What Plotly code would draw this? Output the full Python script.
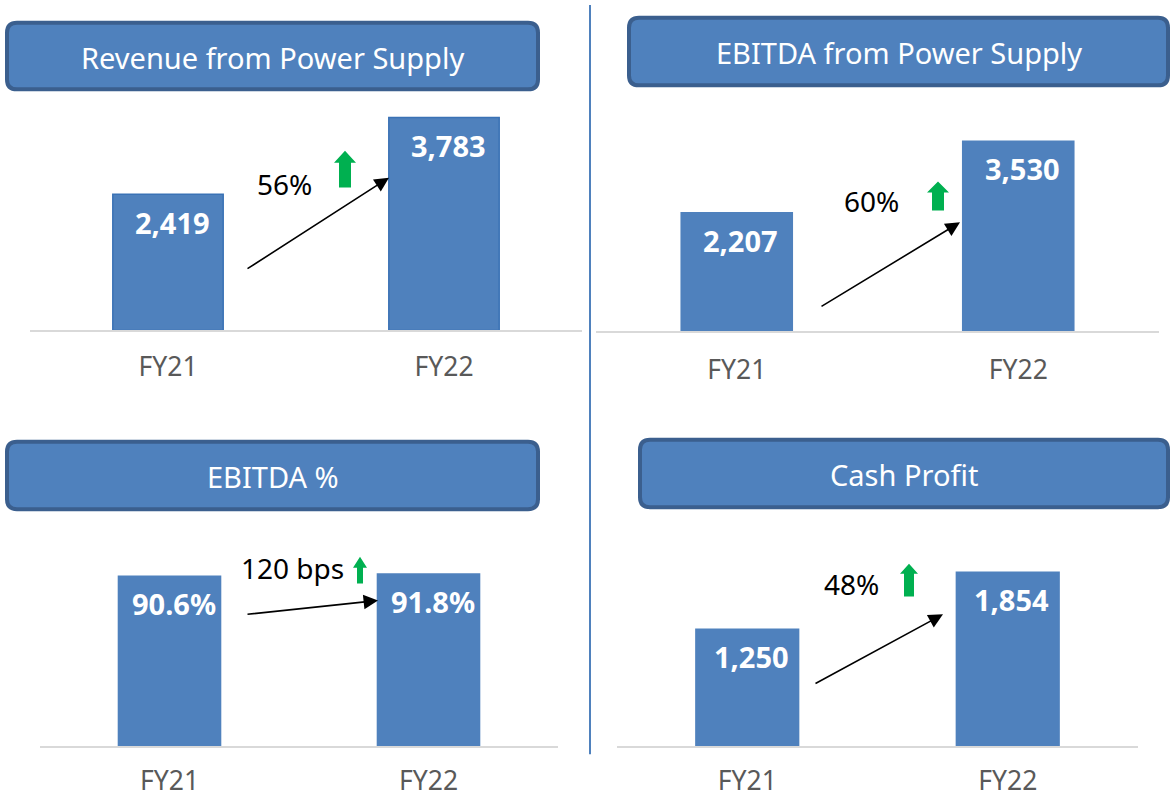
import plotly.graph_objects as go

W, H = 1171, 798

categories = ["FY21", "FY22"]
revenue = [2419, 3783]
ebitda = [2207, 3530]
ebitda_pct = [90.6, 91.8]
cash_profit = [1250, 1854]
titles = ["Revenue from Power Supply", "EBITDA from Power Supply", "EBITDA %", "Cash Profit"]
growth_labels = ["56%", "60%", "120 bps", "48%"]

BLUE = "#4f81bd"
DARK = "#3b5f8e"
GREEN = "#00b050"
FONT = "Noto Sans"


def px(x):
    return x / W


def py(y):
    return 1 - y / H


# layout per panel: x domain px, baseline px, top px, y max
panels = [
    dict(vals=revenue, fmt=lambda v: f"{v:,}", x0=30, x1=582, base=333, top=106, ymax=4000,
         box=(7, 23, 538, 90), tick_len=12, line=True),
    dict(vals=ebitda, fmt=lambda v: f"{v:,}", x0=596, x1=1159, base=334, top=116, ymax=4000,
         box=(629, 18, 1168, 86), tick_len=14, line=False),
    dict(vals=ebitda_pct, fmt=lambda v: f"{v:.1f}%", x0=40, x1=558, base=752, top=562, ymax=100,
         box=(7, 445, 538, 513), tick_len=10, line=False),
    dict(vals=cash_profit, fmt=lambda v: f"{v:,}", x0=617, x1=1138, base=752, top=562, ymax=2000,
         box=(640, 443, 1168, 511), tick_len=10, line=False),
]

# growth annotations: arrow tail, arrow tip, text center, green arrow (cx, top, headbase, bottom, headw, shaftw)
growth = [
    dict(tail=(246, 271), tip=(389, 179), text=(284, 185), g=(345, 152, 164, 189, 22, 12)),
    dict(tail=(820, 309), tip=(960, 224), text=(871, 203), g=(938, 183, 194, 212, 22, 12)),
    dict(tail=(246, 619), tip=(378, 605), text=(292, 572), g=(360, 561, 572, 588, 14, 6)),
    dict(tail=(814, 689), tip=(943, 619), text=(851, 588), g=(909, 568, 578, 601, 18, 10)),
]

fig = go.Figure()
shapes = []
annotations = []

for i, p in enumerate(panels):
    n = i + 1
    xa = "x" if n == 1 else f"x{n}"
    ya = "y" if n == 1 else f"y{n}"
    fig.add_trace(go.Bar(
        x=categories, y=p["vals"], width=0.4,
        marker=dict(color=BLUE, line=dict(color="#3a72b5" if p["line"] else BLUE, width=1.5 if p["line"] else 0)),
        xaxis=xa, yaxis=ya, showlegend=False, hoverinfo="skip",
    ))
    key = "" if n == 1 else str(n)
    fig.layout[f"xaxis{key}"] = dict(
        domain=[px(p["x0"]), px(p["x1"])], range=[-0.5, 1.5], anchor=ya,
        showline=True, linecolor="#d9d9d9", linewidth=2, showgrid=False, zeroline=False,
        ticks="outside", ticklen=p["tick_len"], tickcolor="rgba(0,0,0,0)",
        tickfont=dict(family=FONT, size=26.5, color="#595959"), fixedrange=True,
    )
    fig.layout[f"yaxis{key}"] = dict(
        domain=[py(p["base"]), py(p["top"])], range=[0, p["ymax"]], anchor=xa,
        visible=False, showgrid=False, zeroline=False, fixedrange=True,
    )
    # value labels inside bars
    for c, v in zip(categories, p["vals"]):
        annotations.append(dict(
            x=c, y=v, xref=xa, yref=ya, text=f"<b>{p['fmt'](v)}</b>", showarrow=False,
            xshift=4, yshift=-28, yanchor="middle", xanchor="center",
            font=dict(family=FONT, size=29, color="white"),
        ))
    # title boxes (rounded)
    bx0, by0, bx1, by1 = p["box"]
    r = 10
    path = (
        f"M {px(bx0 + r)},{py(by0)} L {px(bx1 - r)},{py(by0)} "
        f"Q {px(bx1)},{py(by0)} {px(bx1)},{py(by0 + r)} "
        f"L {px(bx1)},{py(by1 - r)} Q {px(bx1)},{py(by1)} {px(bx1 - r)},{py(by1)} "
        f"L {px(bx0 + r)},{py(by1)} Q {px(bx0)},{py(by1)} {px(bx0)},{py(by1 - r)} "
        f"L {px(bx0)},{py(by0 + r)} Q {px(bx0)},{py(by0)} {px(bx0 + r)},{py(by0)} Z"
    )
    shapes.append(dict(type="path", xref="paper", yref="paper", path=path,
                       fillcolor=BLUE, line=dict(color=DARK, width=4), layer="above"))
    annotations.append(dict(
        x=px((bx0 + bx1) / 2), y=py((by0 + by1) / 2 + 1), xref="paper", yref="paper",
        text=titles[i], showarrow=False, yanchor="middle", xanchor="center",
        font=dict(family=FONT, size=29, color="white"),
    ))
    # growth
    g = growth[i]
    tx, ty = g["tip"]
    sx, sy = g["tail"]
    annotations.append(dict(
        x=px(tx), y=py(ty), xref="paper", yref="paper", text="", showarrow=True,
        ax=sx - tx, ay=sy - ty, arrowhead=2, arrowsize=1.8, arrowwidth=1.6, arrowcolor="black",
        standoff=0,
    ))
    gx, gy = g["text"]
    annotations.append(dict(
        x=px(gx), y=py(gy), xref="paper", yref="paper", text=growth_labels[i], showarrow=False,
        yanchor="middle", xanchor="center", font=dict(family=FONT, size=28, color="black"),
    ))
    cx, t, hb, b, hw, sw = g["g"]
    pts = [(cx, t), (cx + hw / 2, hb), (cx + sw / 2, hb), (cx + sw / 2, b),
           (cx - sw / 2, b), (cx - sw / 2, hb), (cx - hw / 2, hb)]
    gpath = "M " + " L ".join(f"{px(a)},{py(c)}" for a, c in pts) + " Z"
    shapes.append(dict(type="path", xref="paper", yref="paper", path=gpath,
                       fillcolor=GREEN, line=dict(width=0)))

# divider line
shapes.append(dict(type="line", xref="paper", yref="paper", x0=px(590), x1=px(590), y0=py(5), y1=py(760),
                   line=dict(color=BLUE, width=2)))

fig.update_layout(
    width=W, height=H, margin=dict(l=0, r=0, t=0, b=0),
    paper_bgcolor="white", plot_bgcolor="white",
    shapes=shapes, annotations=annotations, showlegend=False,
    font=dict(family=FONT),
)

fig.write_html("out.html", config={"displayModeBar": False},
               post_script="document.body.style.margin='0';document.body.style.overflow='hidden';")
